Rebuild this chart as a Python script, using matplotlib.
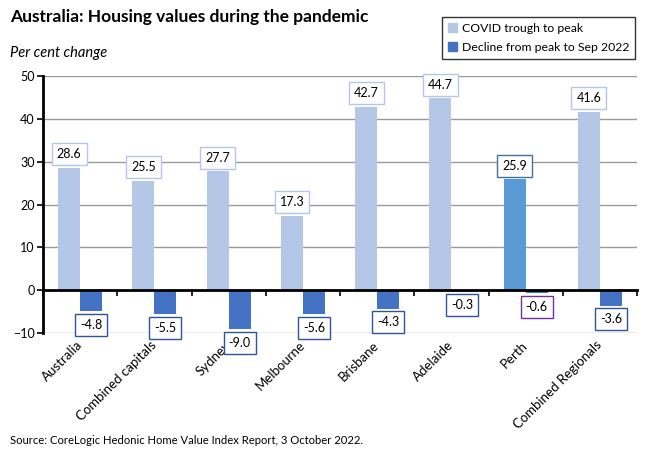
import matplotlib
matplotlib.use("Agg")
import matplotlib.pyplot as plt
import numpy as np
from matplotlib.patches import Patch

categories = ["Australia", "Combined capitals", "Sydney", "Melbourne",
              "Brisbane", "Adelaide", "Perth", "Combined Regionals"]
covid_trough_to_peak = [28.6, 25.5, 27.7, 17.3, 42.7, 44.7, 25.9, 41.6]
decline_peak_to_sep22 = [-4.8, -5.5, -9.0, -5.6, -4.3, -0.3, -0.6, -3.6]
yticks = [-10, 0, 10, 20, 30, 40, 50]

LIGHT = "#B4C7E7"
DARK = "#4472C4"
PERTH = "#5B9BD5"

plt.rcParams['font.family'] = ['Lato', 'DejaVu Sans']

fig = plt.figure(figsize=(6.5, 4.55), dpi=100)
ax = fig.add_axes([43/650, 1-333.3/455, (637-43)/650, (333.3-75.7)/455])

x = np.arange(len(categories))
w = 0.295
c1 = [PERTH if c == "Perth" else LIGHT for c in categories]
b1 = ax.bar(x - w/2, covid_trough_to_peak, w, color=c1, zorder=3)
b2 = ax.bar(x + w/2, decline_peak_to_sep22, w, color=DARK, zorder=3)

ax.set_xlim(-0.5, len(categories) - 0.5)
ax.set_ylim(-10, 50)
ax.set_yticks(yticks)
ax.yaxis.grid(True, color="#999999", lw=1.0, zorder=0)
ax.set_axisbelow(True)
ax.tick_params(axis='y', direction='out', length=4, width=1.2, color='black',
               labelsize=9, pad=2)

for s in ['top', 'right']:
    ax.spines[s].set_visible(False)
ax.spines['left'].set_linewidth(2)
ax.spines['left'].set_color('black')
ax.spines['bottom'].set_position(('data', 0))
ax.spines['bottom'].set_linewidth(2)
ax.spines['bottom'].set_color('black')
ax.spines['bottom'].set_zorder(4)

ax.set_xticks(np.arange(-0.5, len(categories), 1.0), minor=True)
ax.tick_params(axis='x', which='minor', direction='out', length=4, width=1.2, color='black')
ax.set_xticks(x)
ax.set_xticklabels(categories, rotation=45, ha='right', va='center',
                   rotation_mode='anchor', fontsize=9.5)
ax.tick_params(axis='x', which='major', length=0, pad=38)

# data labels
pos_edge = ["#41719C" if c == "Perth" else "#B4C7E7" for c in categories]
neg_edge = ["#7030A0" if c == "Perth" else "#2F5597" for c in categories]
for xi, v, ec in zip(x - w/2, covid_trough_to_peak, pos_edge):
    ax.annotate(f"{v:.1f}", (xi, v), xytext=(0, 5.5), textcoords='offset points',
                ha='center', va='bottom', fontsize=9, zorder=5,
                bbox=dict(boxstyle='square,pad=0.4', fc='white', ec=ec, lw=1))
for xi, v, ec in zip(x + w/2, decline_peak_to_sep22, neg_edge):
    ax.annotate(f"{v:.1f}", (xi, v), xytext=(0, -5.5), textcoords='offset points',
                ha='center', va='top', fontsize=9, zorder=5,
                bbox=dict(boxstyle='square,pad=0.4', fc='white', ec=ec, lw=1))

fig.text(10/650, 1-17/455, "Australia: Housing values during the pandemic",
         fontsize=12.5, fontweight='bold', ha='left', va='center')
fig.text(10/650, 1-53/455, "Per cent change", fontsize=10.5, style='italic',
         ha='left', va='center')
fig.text(10/650, 1-440/455,
         "Source: CoreLogic Hedonic Home Value Index Report, 3 October 2022.",
         fontsize=8.1, ha='left', va='center')

handles = [Patch(color=LIGHT, label="COVID trough to peak"),
           Patch(color=DARK, label="Decline from peak to Sep 2022")]
leg = fig.legend(handles=handles, loc='upper right',
                 bbox_to_anchor=(635/650, 1-17/455), fontsize=8.8,
                 frameon=True, fancybox=False, edgecolor='black',
                 handlelength=0.75, handleheight=0.75, handletextpad=0.4,
                 borderpad=0.45, labelspacing=0.7, borderaxespad=0)
leg.get_frame().set_linewidth(1)

fig.savefig("out.png", dpi=100)
